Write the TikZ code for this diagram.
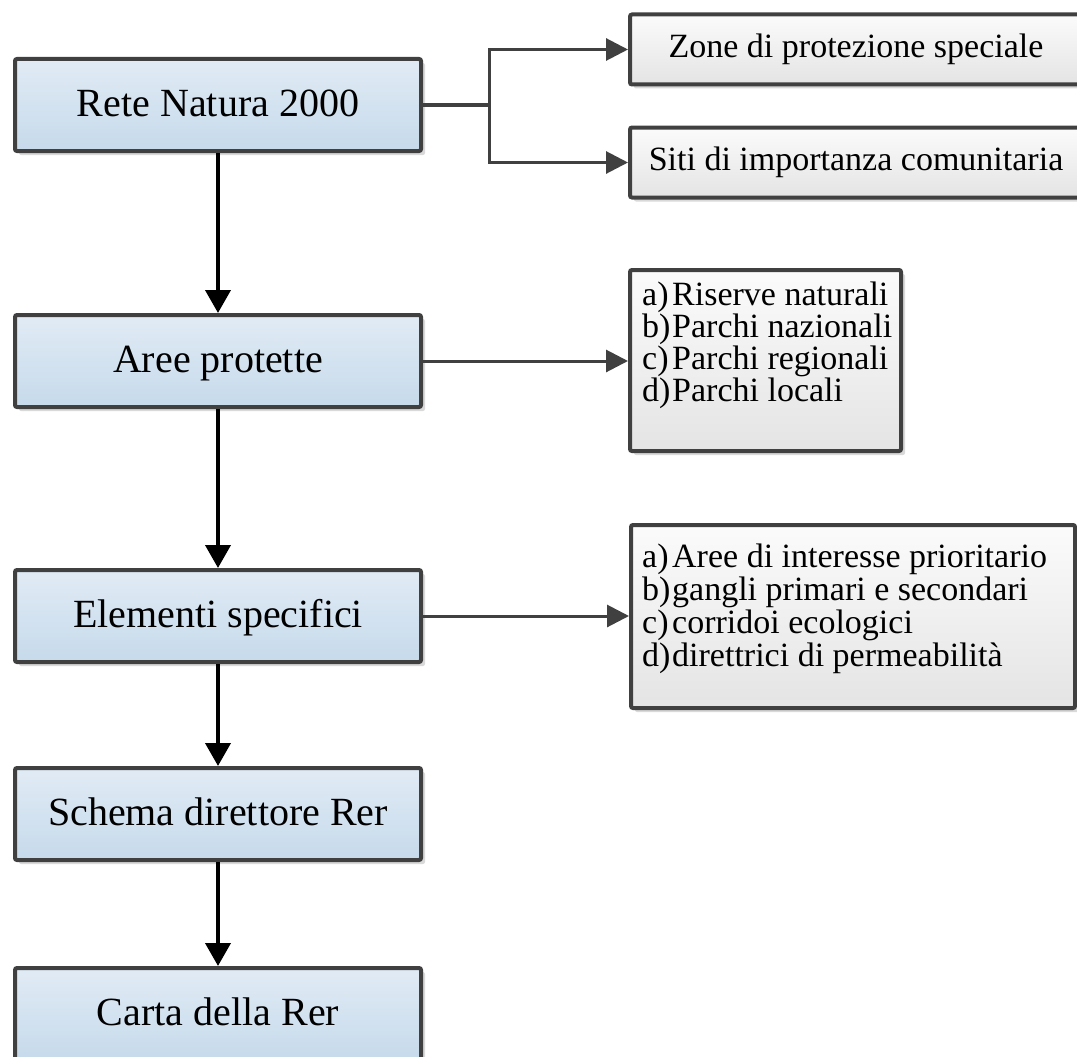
\documentclass[tikz,border=0pt]{standalone}
\usepackage{fontspec}
\setmainfont{Liberation Serif}
\usetikzlibrary{arrows.meta,shadows}
\definecolor{bordc}{HTML}{404040}
\definecolor{bluetop}{HTML}{E1EBF5}
\definecolor{bluebot}{HTML}{C6DAEB}
\definecolor{greytop}{HTML}{FBFBFB}
\definecolor{greybot}{HTML}{E4E4E4}
\definecolor{shadc}{HTML}{D9D9D9}
\tikzset{
  boxbase/.style={draw=bordc, line width=4pt, rounded corners=2pt, inner sep=0pt,
    drop shadow={shadow xshift=4pt, shadow yshift=-4pt, fill=shadc, opacity=1}},
  mainbox/.style={boxbase, top color=bluetop, bottom color=bluebot,
    minimum width=406pt, minimum height=92pt,
    font=\fontsize{40}{44}\selectfont, text height=26pt, text depth=3pt},
  sidebox/.style={boxbase, top color=greytop, bottom color=greybot},
  sidetext/.style={font=\fontsize{34}{38}\selectfont, text height=22pt, text depth=6pt},
  listtext/.style={align=left, inner sep=0pt, anchor=north west},
  varrow/.style={line width=4pt, black, -{Triangle[length=23pt,width=25pt]}},
  harrow/.style={line width=3pt, bordc, -{Triangle[length=22pt,width=22pt]}},
}
\newcommand{\lbl}[1]{\makebox[30pt][l]{#1}}
\begin{document}
\begin{tikzpicture}[x=1pt,y=-1pt]
\useasboundingbox (0,0) rectangle (1077,1057);
\clip (0,0) rectangle (1077,1057);
% left column
\node[mainbox] (rete)   at (218,105)  {Rete Natura 2000};
\node[mainbox] (aree)   at (218,361)  {Aree protette};
\node[mainbox] (elem)   at (218,616)  {Elementi specifici};
\node[mainbox] (schema) at (218,814)  {Schema direttore Rer};
\node[mainbox] (carta)  at (218,1014) {Carta della Rer};
% right boxes
\node[sidebox, sidetext, minimum width=452pt, minimum height=70pt] (zone) at (856,49.5) {Zone di protezione speciale};
\node[sidebox, sidetext, minimum width=452pt, minimum height=70pt] (siti) at (856,162.5) {Siti di importanza comunitaria};
\node[sidebox, minimum width=271pt, minimum height=181pt] (list1) at (765.5,360.5) {};
\node[sidebox, minimum width=444pt, minimum height=183pt] (list2) at (853,616.5) {};
\node[listtext, font=\fontsize{34}{32}\selectfont] (list1t) at (642,281) {\rule{0pt}{24pt}\lbl{a)}Riserve naturali\\\lbl{b)}Parchi nazionali\\\lbl{c)}Parchi regionali\\\lbl{d)}Parchi locali};
\node[listtext, font=\fontsize{34}{33}\selectfont] (list2t) at (642,543) {\rule{0pt}{24pt}\lbl{a)}Aree di interesse prioritario\\\lbl{b)}gangli primari e secondari\\\lbl{c)}corridoi ecologici\\\lbl{d)}direttrici di permeabilità};
% vertical arrows
\draw[varrow] (rete.south) -- (aree.north);
\draw[varrow] (aree.south) -- (elem.north);
\draw[varrow] (elem.south) -- (schema.north);
\draw[varrow] (schema.south) -- (carta.north);
% horizontal arrows
\draw[harrow] (rete.east) -- ++(66,0) |- (zone.west);
\draw[harrow] (rete.east) -- ++(66,0) |- (siti.west);
\draw[harrow] (aree.east) -- (aree.east -| list1.west);
\draw[harrow] (elem.east) -- (elem.east -| list2.west);
\end{tikzpicture}
\end{document}
